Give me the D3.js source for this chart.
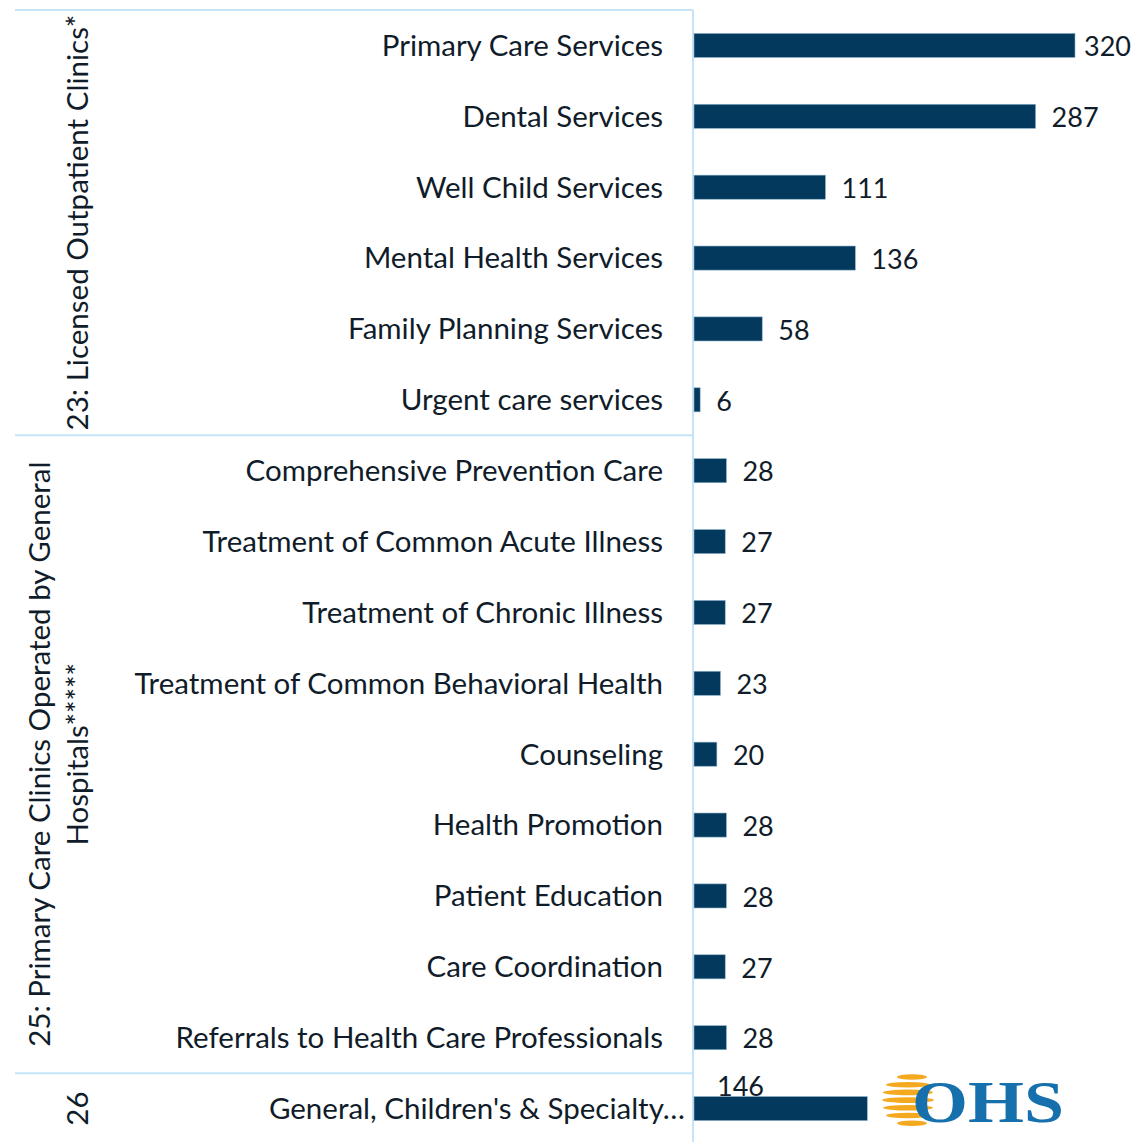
<!DOCTYPE html>
<html lang="en">
<head>
  <meta charset="UTF-8" />
  <title>Services by clinic type</title>
  <script src="https://d3js.org/d3.v7.min.js"></script>
  <style>
    body { margin: 0; padding: 0; background: #fff; }
    svg { display: block; }
    text { font-family: Lato, "Open Sans", sans-serif; fill: #101c2a; }
    .cat { font-size: 29.5px; }
    .val { font-size: 27px; }
    .grp { font-size: 29.5px; }
    .sep { stroke: #c6e4f8; stroke-width: 2; }
  </style>
</head>
<body>
  <svg width="1137" height="1142"></svg>
  <script>
    const categories = [
      "Primary Care Services", "Dental Services", "Well Child Services",
      "Mental Health Services", "Family Planning Services", "Urgent care services",
      "Comprehensive Prevention Care", "Treatment of Common Acute Illness",
      "Treatment of Chronic Illness", "Treatment of Common Behavioral Health",
      "Counseling", "Health Promotion", "Patient Education", "Care Coordination",
      "Referrals to Health Care Professionals", "General, Children's & Specialty…"
    ];
    const values = [320, 287, 111, 136, 58, 6, 28, 27, 27, 23, 20, 28, 28, 27, 28, 146];
    const groupNames = [
      ["23: Licensed Outpatient Clinics*"],
      ["25: Primary Care Clinics Operated by General", "Hospitals*****"],
      ["26"]
    ];
    const groupSizes = [6, 9, 1];

    const svg = d3.select("svg");
    const axisX = 693;

    const y = d3.scaleBand()
      .domain(categories)
      .range([10, 1144])
      .paddingInner(0.66)
      .paddingOuter(0.33);

    const x = d3.scaleLinear()
      .domain([0, 320])
      .range([axisX, 1075]);

    // group boundaries
    let start = 0;
    const groups = groupSizes.map((n, i) => {
      const g = { names: groupNames[i], first: categories[start], last: categories[start + n - 1] };
      g.top = y(g.first) - y.step() * y.paddingOuter();
      g.bottom = y(g.last) + y.bandwidth() + y.step() * y.paddingOuter();
      start += n;
      return g;
    });

    // separators
    svg.selectAll(".hsep")
      .data(groups)
      .enter()
      .append("line")
      .attr("class", "sep")
      .attr("x1", 15).attr("x2", axisX)
      .attr("y1", d => d.top).attr("y2", d => d.top);

    svg.append("line")
      .attr("class", "sep")
      .attr("x1", axisX).attr("x2", axisX)
      .attr("y1", 10).attr("y2", 1142);

    // bars
    svg.selectAll(".bar")
      .data(values)
      .enter()
      .append("rect")
      .attr("class", "bar")
      .attr("x", x(0) + 1)
      .attr("y", (d, i) => y(categories[i]))
      .attr("width", d => x(d) - x(0) - 1)
      .attr("height", y.bandwidth())
      .attr("fill", "#02395c")
      .attr("stroke", "#8fb3cc")
      .attr("stroke-width", 0.6);

    const last = values.length - 1;

    // category labels (the truncated last one sits closer to the axis)
    svg.selectAll(".cat")
      .data(categories)
      .enter()
      .append("text")
      .attr("class", "cat")
      .attr("x", (d, i) => i === last ? 685 : 663)
      .attr("y", d => y(d) + y.bandwidth() / 2)
      .attr("dy", "0.35em")
      .attr("text-anchor", "end")
      .text(d => d);

    // value labels
    svg.selectAll(".val")
      .data(values)
      .enter()
      .append("text")
      .attr("class", "val")
      .attr("x", (d, i) => i === last ? x(0) + 24 : Math.min(x(d) + 16, 1084))
      .attr("y", (d, i) => i === last
        ? y(categories[i]) - 1
        : y(categories[i]) + y.bandwidth() / 2)
      .attr("dy", (d, i) => i === last ? "0" : "0.4em")
      .text(d => d);

    // group labels (rotated)
    const gl = svg.selectAll(".grp")
      .data(groups)
      .enter()
      .append("text")
      .attr("class", "grp")
      .attr("text-anchor", "middle")
      .attr("transform", d => {
        const cy = (d.top + d.bottom) / 2;
        const cx = d.names.length > 1 ? 59 : 78;
        return `translate(${cx},${cy}) rotate(-90)`;
      });

    gl.selectAll("tspan")
      .data(d => d.names.map((t, k) => ({ t, k, n: d.names.length })))
      .enter()
      .append("tspan")
      .attr("x", 0)
      .attr("y", d => (d.k - (d.n - 1) / 2) * 38)
      .attr("dy", "0.35em")
      .text(d => d.t);

    // logo
    const logo = svg.append("g");
    const stripes = d3.range(7);
    logo.selectAll("ellipse")
      .data(stripes)
      .enter()
      .append("ellipse")
      .attr("cx", d => 908 + (d === 0 || d === 6 ? 4 : 0))
      .attr("cy", d => 1077 + d * 7.7)
      .attr("rx", d => [15, 22, 25, 26, 25, 22, 15][d])
      .attr("ry", 2.8)
      .attr("fill", "#f5a91f");
    logo.append("text")
      .attr("x", 912)
      .attr("y", 1122)
      .attr("font-size", 60)
      .attr("textLength", 152)
      .attr("lengthAdjust", "spacingAndGlyphs")
      .style("font-family", "'Liberation Serif', 'DejaVu Serif', serif")
      .style("font-weight", "bold")
      .style("fill", "#1670ae")
      .text("OHS");
  </script>
</body>
</html>
